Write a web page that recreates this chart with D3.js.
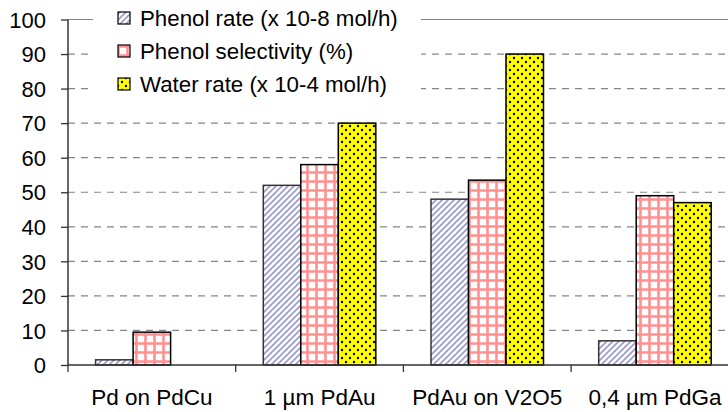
<!DOCTYPE html>
<html><head><meta charset="utf-8">
<script src="https://cdn.jsdelivr.net/npm/d3@7"></script>
<style>body{margin:0;background:#fff}svg{display:block}text{font-family:"Liberation Sans",Arial,sans-serif;fill:#000}</style>
</head><body><svg id="c" width="728" height="412"></svg>
<script>
const categories = ["Pd on PdCu", "1 µm PdAu", "PdAu on V2O5", "0,4 µm PdGa"];
const seriesNames = ["Phenol rate (x 10-8 mol/h)", "Phenol selectivity (%)", "Water rate (x 10-4 mol/h)"];
const phenolRate = [1.5, 52, 48, 7];
const phenolSelectivity = [9.5, 58, 53.5, 49];
const waterRate = [0, 70, 90, 47];
const yTicks = [0, 10, 20, 30, 40, 50, 60, 70, 80, 90, 100];
const seriesValues = [phenolRate, phenolSelectivity, waterRate];
const patternIds = ["pRate", "pSel", "pWater"];

const svg = d3.select("#c");
const defs = svg.append("defs");
// diagonal hatch
const p1 = defs.append("pattern").attr("id","pRate").attr("patternUnits","userSpaceOnUse").attr("width",6).attr("height",6);
p1.append("rect").attr("width",6).attr("height",6).attr("fill","#fff");
p1.append("path").attr("d","M-1,7 L7,-1 M-4,4 L4,-4 M2,10 L10,2").attr("stroke","#9a9ac8").attr("stroke-width",1.6);
// grid
const p2 = defs.append("pattern").attr("id","pSel").attr("patternUnits","userSpaceOnUse").attr("width",9).attr("height",9);
p2.append("rect").attr("width",9).attr("height",9).attr("fill","#fff");
p2.append("path").attr("d","M1.5,0 V9 M0,1.5 H9").attr("stroke","#ff9090").attr("stroke-width",2.6);
// dots
const p3 = defs.append("pattern").attr("id","pWater").attr("patternUnits","userSpaceOnUse").attr("width",8).attr("height",8);
p3.append("rect").attr("width",8).attr("height",8).attr("fill","#ffff00");
p3.append("circle").attr("cx",2).attr("cy",2).attr("r",1.2).attr("fill","#000");
p3.append("circle").attr("cx",6).attr("cy",6).attr("r",1.2).attr("fill","#000");

const x0 = d3.scaleBand().domain(categories).range([68, 738.8]).paddingInner(0).paddingOuter(0);
const x1 = d3.scaleBand().domain(d3.range(3)).range([0, x0.bandwidth()]).paddingInner(0).paddingOuter(0.736);
const y = d3.scaleLinear().domain([0,100]).range([365, 19.5]);

// gridlines
svg.append("g").selectAll("line").data(yTicks.filter(d=>d>0)).join("line")
  .attr("x1",68).attr("x2",728).attr("y1",d=>y(d)).attr("y2",d=>y(d))
  .attr("stroke","#868686").attr("stroke-width",1.2)
  .attr("stroke-dasharray",d=>d===100?null:"7,6");

// bars
const g = svg.append("g");
categories.forEach((c,ci)=>{
  seriesValues.forEach((vals,si)=>{
    const v = vals[ci];
    if (v<=0) return;
    g.append("rect").attr("x",x0(c)+x1(si)).attr("y",y(v)).attr("width",x1.bandwidth()).attr("height",y(0)-y(v))
      .attr("fill",`url(#${patternIds[si]})`).attr("stroke",si===0?"#333":"#000").attr("stroke-width",1.5);
  });
});

// y axis
const yAxis = d3.axisLeft(y).tickValues(yTicks).tickSize(7).tickPadding(15);
const ya = svg.append("g").attr("transform","translate(68,0)").call(yAxis);
ya.select(".domain").attr("stroke","#333").attr("stroke-width",1.5).attr("d","M0,19.5V365");
ya.selectAll(".tick line").attr("stroke","#333").attr("stroke-width",1.3);
ya.selectAll(".tick text").attr("font-size",22).attr("font-family","Liberation Sans, Arial, sans-serif").attr("fill","#000").attr("dy","0.35em");

// x axis
const xa = svg.append("g").attr("transform","translate(0,365)");
xa.append("line").attr("x1",68).attr("x2",728).attr("stroke","#333").attr("stroke-width",1.5);
const tickPos = categories.map(c=>x0(c)).concat([x0(categories[3])+x0.bandwidth()]);
xa.selectAll("line.t").data(tickPos).join("line").attr("class","t")
  .attr("x1",d=>d).attr("x2",d=>d).attr("y1",0).attr("y2",7).attr("stroke","#333").attr("stroke-width",1.3);
xa.selectAll("text").data(categories).join("text")
  .attr("x",d=>x0(d)+x0.bandwidth()/2).attr("y",40).attr("text-anchor","middle").attr("font-size",22.5).text(d=>d);

// legend
const lg = svg.append("g");
lg.append("rect").attr("x",93).attr("y",2).attr("width",328).attr("height",100).attr("fill","#fff");
seriesNames.forEach((n,i)=>{
  const cy = 18 + i*33;
  lg.append("rect").attr("x",118).attr("y",cy-6).attr("width",12).attr("height",12)
    .attr("fill",`url(#${patternIds[i]})`).attr("stroke","#000").attr("stroke-width",1.2);
  lg.append("text").attr("x",140).attr("y",cy).attr("dy","0.35em").attr("font-size",22.3).text(n);
});
</script></body></html>
